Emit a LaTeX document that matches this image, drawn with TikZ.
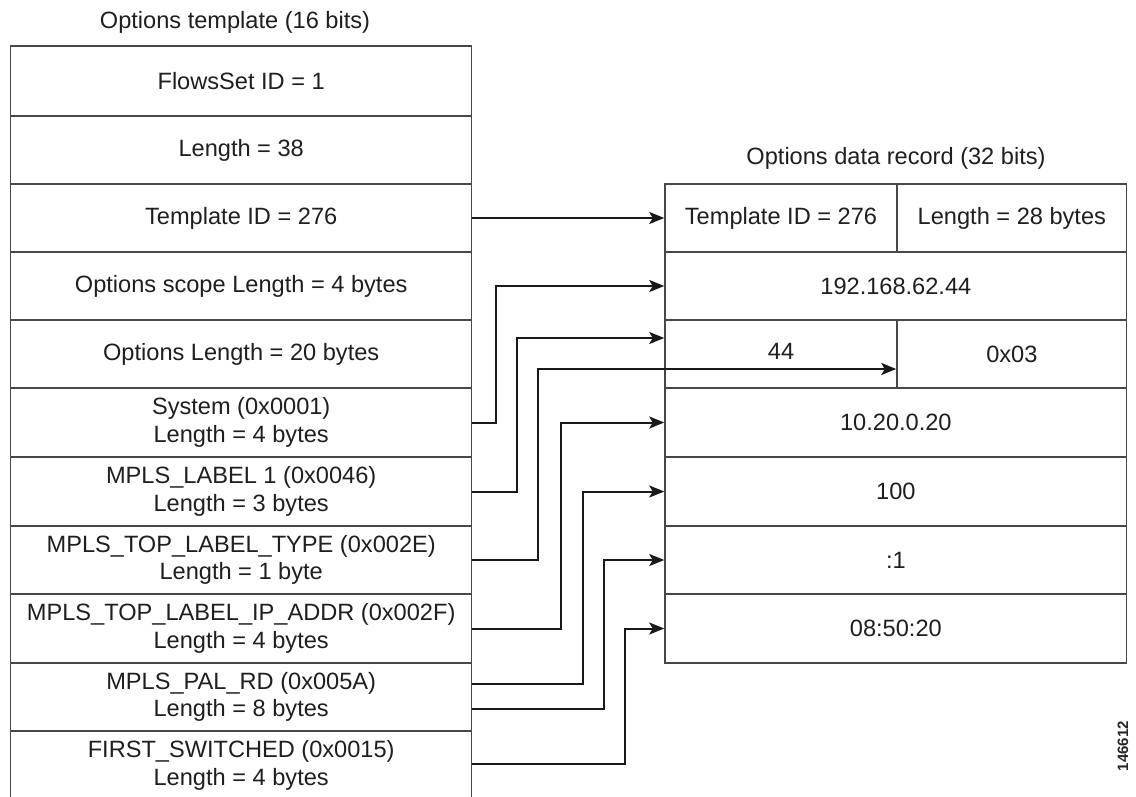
\documentclass[tikz,border=0pt]{standalone}
\usepackage{fontspec}
\setmainfont{Liberation Sans}
\usetikzlibrary{arrows.meta,calc}
\begin{document}
\begin{tikzpicture}[x=1pt,y=-1pt,
  txt/.style={font=\fontsize{23.6}{27.5}\selectfont, text=black!88, align=center},
  cellL/.style={txt, draw=black!72, line width=1.5pt, inner sep=0pt, minimum width=461pt},
  cellR/.style={txt, draw=black!72, line width=1.5pt, inner sep=0pt},
  arr/.style={draw=black!90, line width=2pt, -{Stealth[length=15pt,width=12pt,inset=3.5pt]}},
  title/.style={txt}
]
\useasboundingbox (0,0) rectangle (1136,796);
\fill[white] (0,0) rectangle (1136,796);

% titles
\node[title] (t1) at (235,22) {Options template (16 bits)};
\node[title] (t2) at (896,158) {Options data record (32 bits)};

% left table
\node[cellL, minimum height=70pt] (fs)    at (241.2,81)    {FlowsSet ID = 1};
\node[cellL, minimum height=68pt] (len)   at (241.2,150)   {Length = 38};
\node[cellL, minimum height=68pt] (tid)   at (241.2,218)   {Template ID = 276};
\node[cellL, minimum height=68pt] (scope) at (241.2,286)   {Options scope Length = 4 bytes};
\node[cellL, minimum height=68pt] (olen)  at (241.2,354)   {Options Length = 20 bytes};
\node[cellL, minimum height=69pt] (sys)   at (241.2,422.5) {System (0x0001)\\Length = 4 bytes};
\node[cellL, minimum height=69pt] (lab1)  at (241.2,491.5) {MPLS\_LABEL 1 (0x0046)\\Length = 3 bytes};
\node[cellL, minimum height=68pt] (ttype) at (241.2,560)   {MPLS\_TOP\_LABEL\_TYPE (0x002E)\\Length = 1 byte};
\node[cellL, minimum height=69pt] (ipaddr) at (241.2,628.5) {MPLS\_TOP\_LABEL\_IP\_ADDR (0x002F)\\Length = 4 bytes};
\node[cellL, minimum height=68pt] (pal)   at (241.2,697)   {MPLS\_PAL\_RD (0x005A)\\Length = 8 bytes};
\node[cellL, minimum height=69pt] (first) at (241.2,765.5) {FIRST\_SWITCHED (0x0015)\\Length = 4 bytes};

% right table
\node[cellR, minimum width=232pt,   minimum height=68pt] (tmpl)  at (781,218)    {Template ID = 276};
\node[cellR, minimum width=229.7pt, minimum height=68pt] (len28) at (1011.85,218) {Length = 28 bytes};
\node[cellR, minimum width=461.7pt, minimum height=68pt] (ip)    at (895.85,286)  {192.168.62.44};
\node[cellR, minimum width=232pt,   minimum height=68pt] (c44)   at (781,354)    {\raisebox{6pt}{44}};
\node[cellR, minimum width=229.7pt, minimum height=68pt] (c03)   at (1011.85,354) {0x03};
\node[cellR, minimum width=461.7pt, minimum height=69pt] (r10)   at (895.85,422.5) {10.20.0.20};
\node[cellR, minimum width=461.7pt, minimum height=69pt] (r100)  at (895.85,491.5) {100};
\node[cellR, minimum width=461.7pt, minimum height=68pt] (r1)    at (895.85,560)  {:1};
\node[cellR, minimum width=461.7pt, minimum height=69pt] (rtime) at (895.85,628.5) {08:50:20};

% connectors
\draw[arr] (tid.east) -- (tmpl.west);
\draw[arr] (sys.east) -- ++(24,0) |- (ip.west);
\draw[arr] (lab1.east) -- ++(44.5,0) |- ($(c44.west)+(0,-16)$);
\draw[arr] (ttype.east) -- ++(66,0) |- ($(c03.west)+(0,15)$);
\draw[arr] (ipaddr.east) -- ++(88.5,0) |- (r10.west);
\draw[arr] ($(pal.east)+(0,-13)$) -- ++(111,0) |- (r100.west);
\draw[arr] ($(pal.east)+(0,12)$) -- ++(131.5,0) |- (r1.west);
\draw[arr] ($(first.east)+(0,-2)$) -- ++(152.5,0) |- (rtime.west);

% figure number
\node[rotate=90, font=\bfseries\fontsize{15}{15}\selectfont, text=black!85] (wm) at (1123,746) {146612};
\end{tikzpicture}
\end{document}
